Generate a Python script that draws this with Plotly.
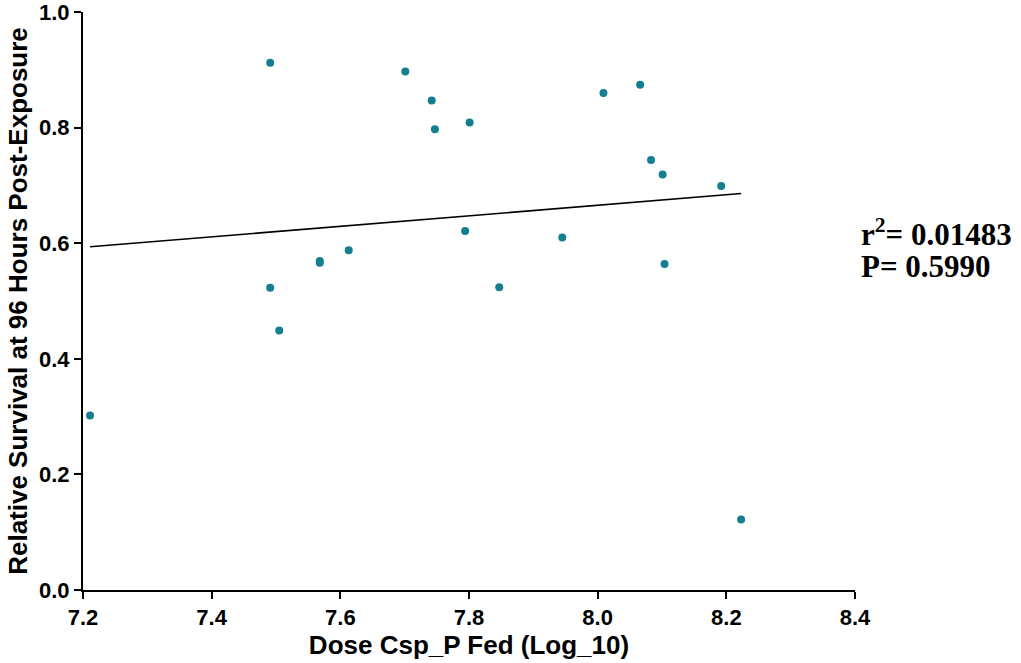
import numpy as np
import plotly.graph_objects as go

dose = [7.211, 7.491, 7.491, 7.505, 7.568, 7.568, 7.613, 7.701, 7.742, 7.747, 7.801,
        7.794, 7.847, 7.945, 8.009, 8.066, 8.083, 8.101, 8.104, 8.192, 8.223]
survival = [0.302, 0.912, 0.523, 0.449, 0.569, 0.566, 0.588, 0.897, 0.847, 0.797, 0.809,
            0.621, 0.524, 0.610, 0.860, 0.874, 0.744, 0.719, 0.564, 0.699, 0.122]
x_ticks = [7.2, 7.4, 7.6, 7.8, 8.0, 8.2, 8.4]
y_ticks = [0.0, 0.2, 0.4, 0.6, 0.8, 1.0]

slope, intercept = np.polyfit(dose, survival, 1)
fit_x = [min(dose), max(dose)]
fit_y = [slope * v + intercept for v in fit_x]

fig = go.Figure()
fig.add_trace(go.Scatter(x=fit_x, y=fit_y, mode="lines",
                         line=dict(color="black", width=1.6), showlegend=False))
fig.add_trace(go.Scatter(x=dose, y=survival, mode="markers",
                         marker=dict(color="#137f8f", size=8), showlegend=False,
                         cliponaxis=False))

tickfont = dict(family="Liberation Sans", size=22, color="black")
titlefont = dict(family="Liberation Sans", size=26, color="black")
fig.update_layout(
    width=1021, height=663,
    margin=dict(l=83, r=166, t=12, b=73),
    plot_bgcolor="white", paper_bgcolor="white",
    xaxis=dict(range=[7.2, 8.4], tickvals=x_ticks, ticktext=[f"<b>{v:.1f}</b>" for v in x_ticks],
               showline=True, linecolor="black", linewidth=2, ticks="outside",
               ticklen=7, tickwidth=2, tickcolor="black", showgrid=False, zeroline=False,
               tickfont=tickfont, automargin=False, ticklabeloverflow="allow",
               title=dict(text="<b>Dose Csp_P Fed (Log_10)</b>", font=titlefont, standoff=4)),
    yaxis=dict(range=[0, 1.0], tickvals=y_ticks, ticktext=[f"<b>{v:.1f}</b>" for v in y_ticks],
               showline=True, linecolor="black", linewidth=2, ticks="outside",
               ticklen=7, tickwidth=2, tickcolor="black", showgrid=False, zeroline=False,
               tickfont=tickfont, automargin=False, ticklabeloverflow="allow",
               title=dict(text="<b>Relative Survival at 96 Hours Post-Exposure</b>",
                          font=titlefont, standoff=4)),
    annotations=[
        dict(text="<b>r<sup>2</sup>= 0.01483</b>", xref="paper", yref="paper",
             x=1.0, y=0.618, xanchor="left", yanchor="middle", xshift=4, showarrow=False,
             font=dict(family="Liberation Serif", size=31, color="black"), align="left"),
        dict(text="<b>P= 0.5990</b>", xref="paper", yref="paper",
             x=1.0, y=0.559, xanchor="left", yanchor="middle", xshift=4, showarrow=False,
             font=dict(family="Liberation Serif", size=31, color="black"), align="left"),
    ],
)
fig.write_html("out.html")
